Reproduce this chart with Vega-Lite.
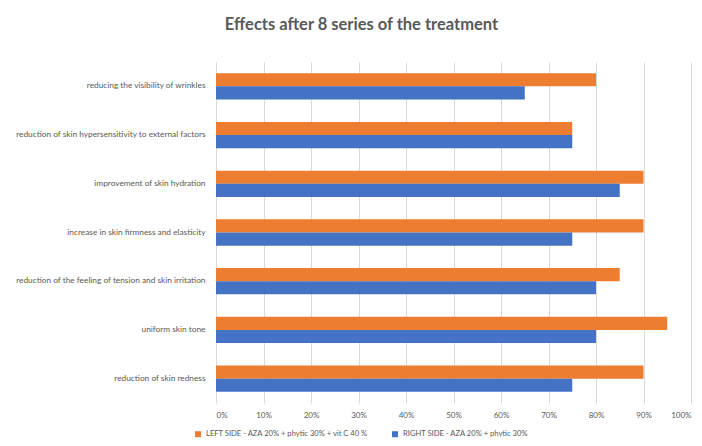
{
  "$schema": "https://vega.github.io/schema/vega-lite/v6.json",
  "width": 475,
  "height": 341,
  "autosize": {"type": "none"},
  "padding": {"left": 216, "top": 62, "right": 11, "bottom": 43},
  "background": "white",
  "title": {
    "text": "Effects after 8 series of the treatment",
    "anchor": "middle",
    "frame": "group",
    "dx": -92,
    "offset": 29,
    "font": "Lato",
    "fontSize": 16.5,
    "fontWeight": "bold",
    "color": "#595959"
  },
  "config": {
    "view": {"stroke": null},
    "font": "Lato"
  },
  "data": {
    "values": [
      {"effect": "reducing the visibility of wrinkles", "side": "LEFT SIDE  - AZA 20% + phytic 30% + vit C 40 %", "value": 0.80},
      {"effect": "reducing the visibility of wrinkles", "side": "RIGHT SIDE -  AZA 20% + phytic 30%", "value": 0.65},
      {"effect": "reduction of skin hypersensitivity to external factors", "side": "LEFT SIDE  - AZA 20% + phytic 30% + vit C 40 %", "value": 0.75},
      {"effect": "reduction of skin hypersensitivity to external factors", "side": "RIGHT SIDE -  AZA 20% + phytic 30%", "value": 0.75},
      {"effect": "improvement of skin hydration", "side": "LEFT SIDE  - AZA 20% + phytic 30% + vit C 40 %", "value": 0.90},
      {"effect": "improvement of skin hydration", "side": "RIGHT SIDE -  AZA 20% + phytic 30%", "value": 0.85},
      {"effect": "increase in  skin firmness and elasticity", "side": "LEFT SIDE  - AZA 20% + phytic 30% + vit C 40 %", "value": 0.90},
      {"effect": "increase in  skin firmness and elasticity", "side": "RIGHT SIDE -  AZA 20% + phytic 30%", "value": 0.75},
      {"effect": "reduction of the feeling of tension and skin irritation", "side": "LEFT SIDE  - AZA 20% + phytic 30% + vit C 40 %", "value": 0.85},
      {"effect": "reduction of the feeling of tension and skin irritation", "side": "RIGHT SIDE -  AZA 20% + phytic 30%", "value": 0.80},
      {"effect": "uniform skin tone", "side": "LEFT SIDE  - AZA 20% + phytic 30% + vit C 40 %", "value": 0.95},
      {"effect": "uniform skin tone", "side": "RIGHT SIDE -  AZA 20% + phytic 30%", "value": 0.80},
      {"effect": "reduction of skin redness", "side": "LEFT SIDE  - AZA 20% + phytic 30% + vit C 40 %", "value": 0.90},
      {"effect": "reduction of skin redness", "side": "RIGHT SIDE -  AZA 20% + phytic 30%", "value": 0.75}
    ]
  },
  "mark": {"type": "bar"},
  "encoding": {
    "y": {
      "field": "effect",
      "type": "nominal",
      "sort": null,
      "scale": {"paddingInner": 0.46, "paddingOuter": 0.23},
      "axis": {
        "title": null,
        "ticks": false,
        "domain": false,
        "labelPadding": 11,
        "labelFontSize": 8.3,
        "labelColor": "#595959",
        "labelLimit": 300
      }
    },
    "yOffset": {
      "field": "side",
      "type": "nominal",
      "sort": null
    },
    "x": {
      "field": "value",
      "type": "quantitative",
      "scale": {"domain": [0, 1], "nice": false},
      "axis": {
        "title": null,
        "format": "%",
        "values": [0, 0.1, 0.2, 0.3, 0.4, 0.5, 0.6, 0.7, 0.8, 0.9, 1],
        "labelOverlap": false,
        "domain": false,
        "ticks": false,
        "labelPadding": 8,
        "labelFontSize": 8,
        "labelColor": "#595959",
        "gridColor": "#d9d9d9",
        "gridWidth": 1
      }
    },
    "color": {
      "field": "side",
      "type": "nominal",
      "sort": null,
      "scale": {"range": ["#ED7D31", "#4472C4"]},
      "legend": {
        "title": null,
        "orient": "none",
        "direction": "horizontal",
        "legendX": -22,
        "legendY": 368,
        "symbolType": "square",
        "symbolSize": 36,
        "labelFontSize": 7.6,
        "labelColor": "#595959",
        "labelLimit": 300,
        "columnPadding": 20
      }
    }
  }
}
